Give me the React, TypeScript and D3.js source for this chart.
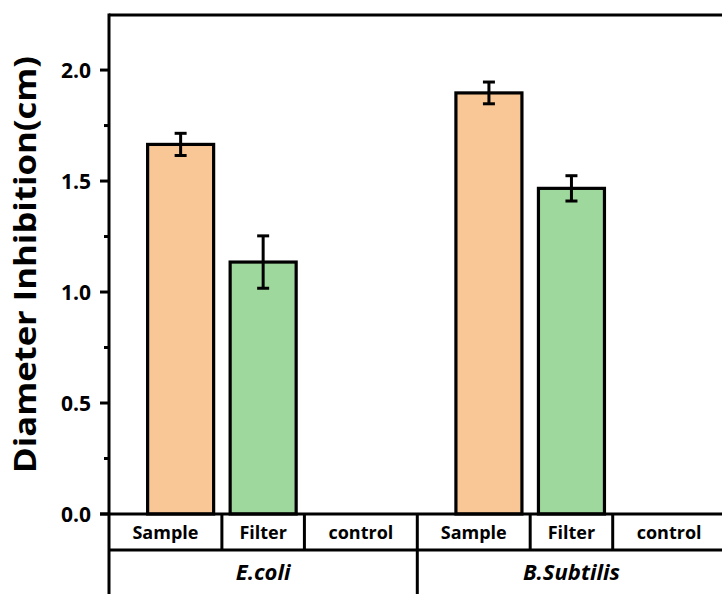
import React from "react"
import * as d3 from "d3"

// data
const groups = ["E.coli", "B.Subtilis"]
const categories = ["Sample", "Filter", "control"]
const sampleMeans = [1.665, 1.897]
const sampleErrors = [0.05, 0.049]
const filterMeans = [1.135, 1.467]
const filterErrors = [0.118, 0.057]
const yTicks = [0, 0.5, 1.0, 1.5, 2.0]
const yMinorTicks = [0.25, 0.75, 1.25, 1.75]

const fills: Record<string, string> = {
  Sample: "#F9C796",
  Filter: "#9FD89D",
  control: "#FFFFFF",
}

const W = 722
const H = 594
const FONT = "'Open Sans', 'DejaVu Sans', sans-serif"

const App: React.FC = () => {
  const margin = { top: 15, left: 109, bottom: 514 }
  const groupWidth = 308.3

  const y = d3.scaleLinear().domain([0, 2.248]).range([margin.bottom, margin.top])
  const xGroup = d3.scaleBand<string>().domain(groups).range([margin.left, margin.left + groupWidth * groups.length])
  const xInner = d3.scaleBand<string>().domain(categories).range([0, groupWidth]).paddingInner(0.2).paddingOuter(0.468)

  const bw = xInner.bandwidth()
  const half = (xInner.step() * xInner.paddingInner()) / 2

  const bars: { g: string; cat: string; v: number; e: number }[] = []
  groups.forEach((g, i) => {
    bars.push({ g, cat: "Sample", v: sampleMeans[i], e: sampleErrors[i] })
    bars.push({ g, cat: "Filter", v: filterMeans[i], e: filterErrors[i] })
  })

  const row1 = 550
  const capW = 12

  return (
    <svg width={W} height={H} style={{ position: "absolute", left: 0, top: 0, background: "#fff" }}>
      {/* bars */}
      {bars.map((d, i) => {
        const x0 = xGroup(d.g)! + xInner(d.cat)!
        const cx = x0 + bw / 2
        return (
          <g key={i}>
            <rect x={x0} y={y(d.v)} width={bw} height={y(0) - y(d.v)} fill={fills[d.cat]} stroke="#000" strokeWidth={3.2} />
            <line x1={cx} x2={cx} y1={y(d.v + d.e)} y2={y(d.v - d.e)} stroke="#000" strokeWidth={3} />
            <line x1={cx - capW / 2} x2={cx + capW / 2} y1={y(d.v + d.e)} y2={y(d.v + d.e)} stroke="#000" strokeWidth={3} />
            <line x1={cx - capW / 2} x2={cx + capW / 2} y1={y(d.v - d.e)} y2={y(d.v - d.e)} stroke="#000" strokeWidth={3} />
          </g>
        )
      })}

      {/* frame */}
      <line x1={margin.left} x2={W} y1={margin.top} y2={margin.top} stroke="#000" strokeWidth={3} />
      <line x1={margin.left} x2={margin.left} y1={margin.top - 1.5} y2={H} stroke="#000" strokeWidth={3} />
      <line x1={margin.left - 9} x2={W} y1={y(0)} y2={y(0)} stroke="#000" strokeWidth={3} />
      <line x1={margin.left} x2={W} y1={row1} y2={row1} stroke="#000" strokeWidth={3} />

      {/* y ticks */}
      {yTicks.map((t) => (
        <g key={t}>
          <line x1={margin.left - 9} x2={margin.left} y1={y(t)} y2={y(t)} stroke="#000" strokeWidth={3} />
          <text x={91} y={y(t) + 7.5} textAnchor="end" fontFamily={FONT} fontWeight="bold" fontSize={21}>
            {d3.format(".1f")(t)}
          </text>
        </g>
      ))}
      {yMinorTicks.map((t) => (
        <line key={t} x1={margin.left - 5} x2={margin.left} y1={y(t)} y2={y(t)} stroke="#000" strokeWidth={3} />
      ))}

      {/* y title */}
      <text
        transform={`translate(36, ${(margin.top + margin.bottom) / 2}) rotate(-90)`}
        textAnchor="middle"
        fontFamily={FONT}
        fontWeight="bold"
        fontSize={30}
        textLength={417}
        lengthAdjust="spacingAndGlyphs"
      >
        Diameter Inhibition(cm)
      </text>

      {/* category table */}
      {groups.map((g, gi) => {
        const gx = xGroup(g)!
        return (
          <g key={g}>
            {gi > 0 && <line x1={gx} x2={gx} y1={y(0)} y2={H} stroke="#000" strokeWidth={3} />}
            {categories.slice(0, -1).map((c) => {
              const dx = gx + xInner(c)! + bw + half
              return <line key={c} x1={dx} x2={dx} y1={y(0)} y2={row1} stroke="#000" strokeWidth={3} />
            })}
            {categories.map((c, ci) => {
              const left = ci === 0 ? gx : gx + xInner(c)! - half
              const right = ci === categories.length - 1 ? gx + groupWidth : gx + xInner(c)! + bw + half
              return (
                <text key={c} x={(left + right) / 2} y={539} textAnchor="middle" fontFamily={FONT} fontWeight="bold" fontSize={18}>
                  {c}
                </text>
              )
            })}
            <text x={gx + groupWidth / 2} y={580} textAnchor="middle" fontFamily={FONT} fontWeight="bold" fontStyle="italic" fontSize={22}>
              {g}
            </text>
          </g>
        )
      })}
    </svg>
  )
}

export default App
